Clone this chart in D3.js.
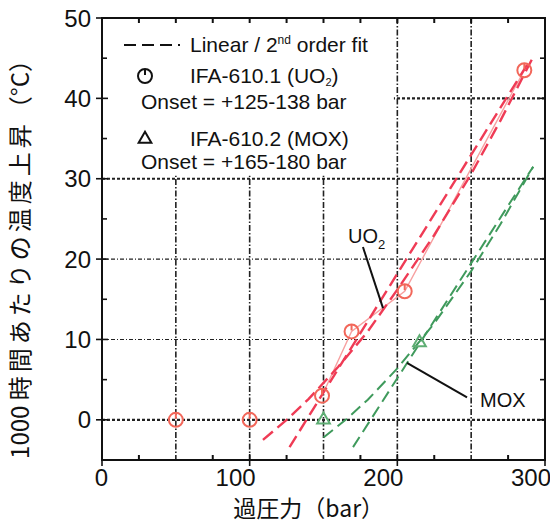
<html>
<style>
  body { margin:0; background:#fff; }
  text { font-family: "Liberation Sans", Arial, sans-serif; fill:#111; }
  .cjk { font-family: "Noto Sans CJK JP", sans-serif; }
</style>
<script src="https://d3js.org/d3.v7.min.js" charset="utf-8"></script>
<body>
<div id="chart"></div>
<script>
    // data
    var xTicks = [0, 100, 200, 300];
    var xMinor = [25, 75, 125, 175, 225, 275];
    var xGrid = [50, 100, 150, 200, 250];
    var yTicks = [0, 10, 20, 30, 40, 50];
    var yMinor = [5, 15, 25, 35, 45];
    var yGrid = [0, 10, 20, 30, 40];

    // IFA-610.1 (UO2) measured points
    var uo2P = [50, 100, 149, 169, 205, 286];
    var uo2T = [0, 0, 3, 11, 16, 43.5];
    // IFA-610.2 (MOX) measured points
    var moxP = [150, 215];
    var moxT = [0, 9.6];

    // fits
    var uo2LinP = [127, 290];
    var uo2LinT = [-3.4, 44.8];
    var uo2QuadP = [109, 125, 140, 160, 180, 200, 225, 250, 270, 291];
    var uo2QuadT = [-2.5, 0, 2.6, 6.6, 11.0, 16.2, 23.0, 30.6, 37.3, 44.8];
    var moxLinP = [170, 292];
    var moxLinT = [-3.4, 31.5];
    var moxQuadP = [150, 165, 180, 200, 225, 250, 270, 292];
    var moxQuadT = [-2.2, 0, 2.5, 6.4, 12.0, 18.5, 24.4, 31.5];

    //************************************************************
    // Configuration
    //************************************************************
    var W = 550, H = 526;
    var red = "#ef3b55", redPt = "#f2675a", green = "#3f9a5c", greenPt = "#5fae74";

    var x = d3.scaleLinear().domain([0, 300]).range([102, 545]);
    var y = d3.scaleLinear().domain([-5, 50]).range([460, 18]);

    var svg = d3.select("#chart").append("svg")
        .attr("width", W)
        .attr("height", H);

    //grid lines
    svg.selectAll("line.gx").data(xGrid).enter().append("line")
        .attr("x1", d => x(d)).attr("x2", d => x(d))
        .attr("y1", y(50)).attr("y2", y(-5))
        .attr("stroke", "#222").attr("stroke-width", 1.6)
        .attr("stroke-dasharray", "6,2,1.5,2");
    svg.selectAll("line.gy").data(yGrid).enter().append("line")
        .attr("x1", x(0)).attr("x2", x(300))
        .attr("y1", d => y(d)).attr("y2", d => y(d))
        .attr("stroke", "#222")
        .attr("stroke-width", d => (d == 10 || d == 20) ? 1.1 : 2.2)
        .attr("stroke-dasharray", d => (d == 10 || d == 20) ? "4,2,1,2" : "3,2");

    // legend background covers the upper left grid
    svg.append("rect")
        .attr("x", x(0) + 1).attr("y", y(50) + 1)
        .attr("width", x(197) - x(0)).attr("height", y(30.4) - y(50) - 1)
        .attr("fill", "#fff");

    //fit lines
    var line = d3.line().x(d => x(d[0])).y(d => y(d[1]));
    function fit(px, py, col, w, dash) {
        svg.append("path")
            .attr("d", line(px.map((p, i) => [p, py[i]])))
            .attr("fill", "none").attr("stroke", col)
            .attr("stroke-width", w).attr("stroke-dasharray", dash);
    }
    fit(uo2P.slice(2), uo2T.slice(2), "#f7a0a0", 1.4, null);
    fit(uo2QuadP, uo2QuadT, red, 2.4, "13,6");
    fit(uo2LinP, uo2LinT, red, 2.4, "13,6");
    fit(moxQuadP, moxQuadT, green, 2, "12,6");
    fit(moxLinP, moxLinT, green, 2, "12,6");

    // markers
    function circ(g, cx, cy, col) {
        g.append("circle").attr("cx", cx).attr("cy", cy).attr("r", 7)
            .attr("fill", "none").attr("stroke", col).attr("stroke-width", 2);
        g.append("line").attr("x1", cx).attr("x2", cx)
            .attr("y1", cy - 7).attr("y2", cy - 1)
            .attr("stroke", col).attr("stroke-width", 2);
    }
    function tri(g, cx, cy, col) {
        g.append("path")
            .attr("d", d3.symbol().type(d3.symbolTriangle).size(70)())
            .attr("transform", "translate(" + cx + "," + cy + ")")
            .attr("fill", "none").attr("stroke", col).attr("stroke-width", 2);
    }
    uo2P.forEach((p, i) => circ(svg, x(p), y(uo2T[i]), redPt));
    moxP.forEach((p, i) => tri(svg, x(p), y(moxT[i]), greenPt));

    //************************************************************
    // Axes box
    //************************************************************
    svg.append("rect")
        .attr("x", x(0)).attr("y", y(50))
        .attr("width", x(300) - x(0)).attr("height", y(-5) - y(50))
        .attr("fill", "none").attr("stroke", "#111").attr("stroke-width", 2);

    // left: major ticks cross the axis, minor inward
    svg.selectAll("line.ly").data(yTicks).enter().append("line")
        .attr("x1", x(0) - 6).attr("x2", x(0) + 6)
        .attr("y1", d => y(d)).attr("y2", d => y(d))
        .attr("stroke", "#111").attr("stroke-width", 1.6);
    svg.selectAll("line.lym").data(yMinor).enter().append("line")
        .attr("x1", x(0)).attr("x2", x(0) + 5)
        .attr("y1", d => y(d)).attr("y2", d => y(d))
        .attr("stroke", "#111").attr("stroke-width", 1.6);
    svg.selectAll("line.ry").data(yTicks.concat(yMinor)).enter().append("line")
        .attr("x1", x(300) - 5).attr("x2", x(300))
        .attr("y1", d => y(d)).attr("y2", d => y(d))
        .attr("stroke", "#111").attr("stroke-width", 1.6);
    svg.selectAll("text.yl").data(yTicks).enter().append("text")
        .attr("x", x(0) - 11).attr("y", d => y(d))
        .attr("dy", "0.36em").attr("text-anchor", "end")
        .attr("font-size", 24).text(d => d);

    // bottom / top
    svg.selectAll("line.bx").data(xTicks).enter().append("line")
        .attr("x1", d => x(d)).attr("x2", d => x(d))
        .attr("y1", y(-5) - 6).attr("y2", y(-5) + 6)
        .attr("stroke", "#111").attr("stroke-width", 1.6);
    svg.selectAll("line.bxm").data(xMinor).enter().append("line")
        .attr("x1", d => x(d)).attr("x2", d => x(d))
        .attr("y1", y(-5) - 5).attr("y2", y(-5))
        .attr("stroke", "#111").attr("stroke-width", 2);
    svg.selectAll("line.tx").data(xMinor.concat(xGrid)).enter().append("line")
        .attr("x1", d => x(d)).attr("x2", d => x(d))
        .attr("y1", y(50)).attr("y2", y(50) + 5)
        .attr("stroke", "#111").attr("stroke-width", 2);
    svg.selectAll("text.xl").data(xTicks).enter().append("text")
        .attr("x", d => x(d) + 6).attr("y", y(-5) + 26)
        .attr("text-anchor", "end")
        .attr("font-size", 24).text(d => d);

    // axis titles
    svg.append("text").attr("class", "cjk")
        .attr("x", x(140)).attr("y", 517)
        .attr("text-anchor", "middle").attr("font-size", 23)
        .text("過圧力（bar）");
    var yl = svg.append("text").attr("class", "cjk")
        .attr("transform", "translate(29," + y(20.7) + ") rotate(-90)")
        .attr("text-anchor", "middle").attr("font-size", 24);
    yl.append("tspan").text("1000 ");
    yl.append("tspan").attr("letter-spacing", 4).text("時間あたりの温度上昇");
    yl.append("tspan").text("（°C）");

    //************************************************************
    // Legend
    //************************************************************
    var lg = svg.append("g");
    lg.append("line")
        .attr("x1", 124).attr("x2", 180).attr("y1", 45).attr("y2", 45)
        .attr("stroke", "#111").attr("stroke-width", 2.2)
        .attr("stroke-dasharray", "12,6");
    var t1 = lg.append("text").attr("x", 190).attr("y", 52).attr("font-size", 21);
    t1.append("tspan").text("Linear / 2");
    t1.append("tspan").attr("dy", -8).attr("font-size", 12).text("nd");
    t1.append("tspan").attr("dy", 8).text(" order fit");

    circ(lg, 145, 76, "#111");
    var t2 = lg.append("text").attr("x", 190).attr("y", 83).attr("font-size", 21);
    t2.append("tspan").text("IFA-610.1 (UO");
    t2.append("tspan").attr("dy", 3).attr("font-size", 11).text("2");
    t2.append("tspan").attr("dy", -3).text(")");
    lg.append("text").attr("x", 141).attr("y", 109).attr("font-size", 21)
        .text("Onset = +125-138 bar");

    tri(lg, 145, 139, "#111");
    lg.append("text").attr("x", 190).attr("y", 146).attr("font-size", 21)
        .text("IFA-610.2 (MOX)");
    lg.append("text").attr("x", 141).attr("y", 169).attr("font-size", 21)
        .text("Onset = +165-180 bar");

    //************************************************************
    // Annotations
    //************************************************************
    var u = svg.append("text").attr("x", x(166.6)).attr("y", y(22)).attr("font-size", 20);
    u.append("tspan").text("UO");
    u.append("tspan").attr("dy", 6).attr("font-size", 13).text("2");
    svg.append("line")
        .attr("x1", x(176.7)).attr("y1", y(21.5)).attr("x2", x(190.3)).attr("y2", y(13.9))
        .attr("stroke", "#111").attr("stroke-width", 2);
    svg.append("text").attr("x", x(256)).attr("y", y(1.6)).attr("font-size", 20).text("MOX");
    svg.append("line")
        .attr("x1", x(247.2)).attr("y1", y(2.8)).attr("x2", x(206.5)).attr("y2", y(7.1))
        .attr("stroke", "#111").attr("stroke-width", 2);
</script>
</body>
</html>
